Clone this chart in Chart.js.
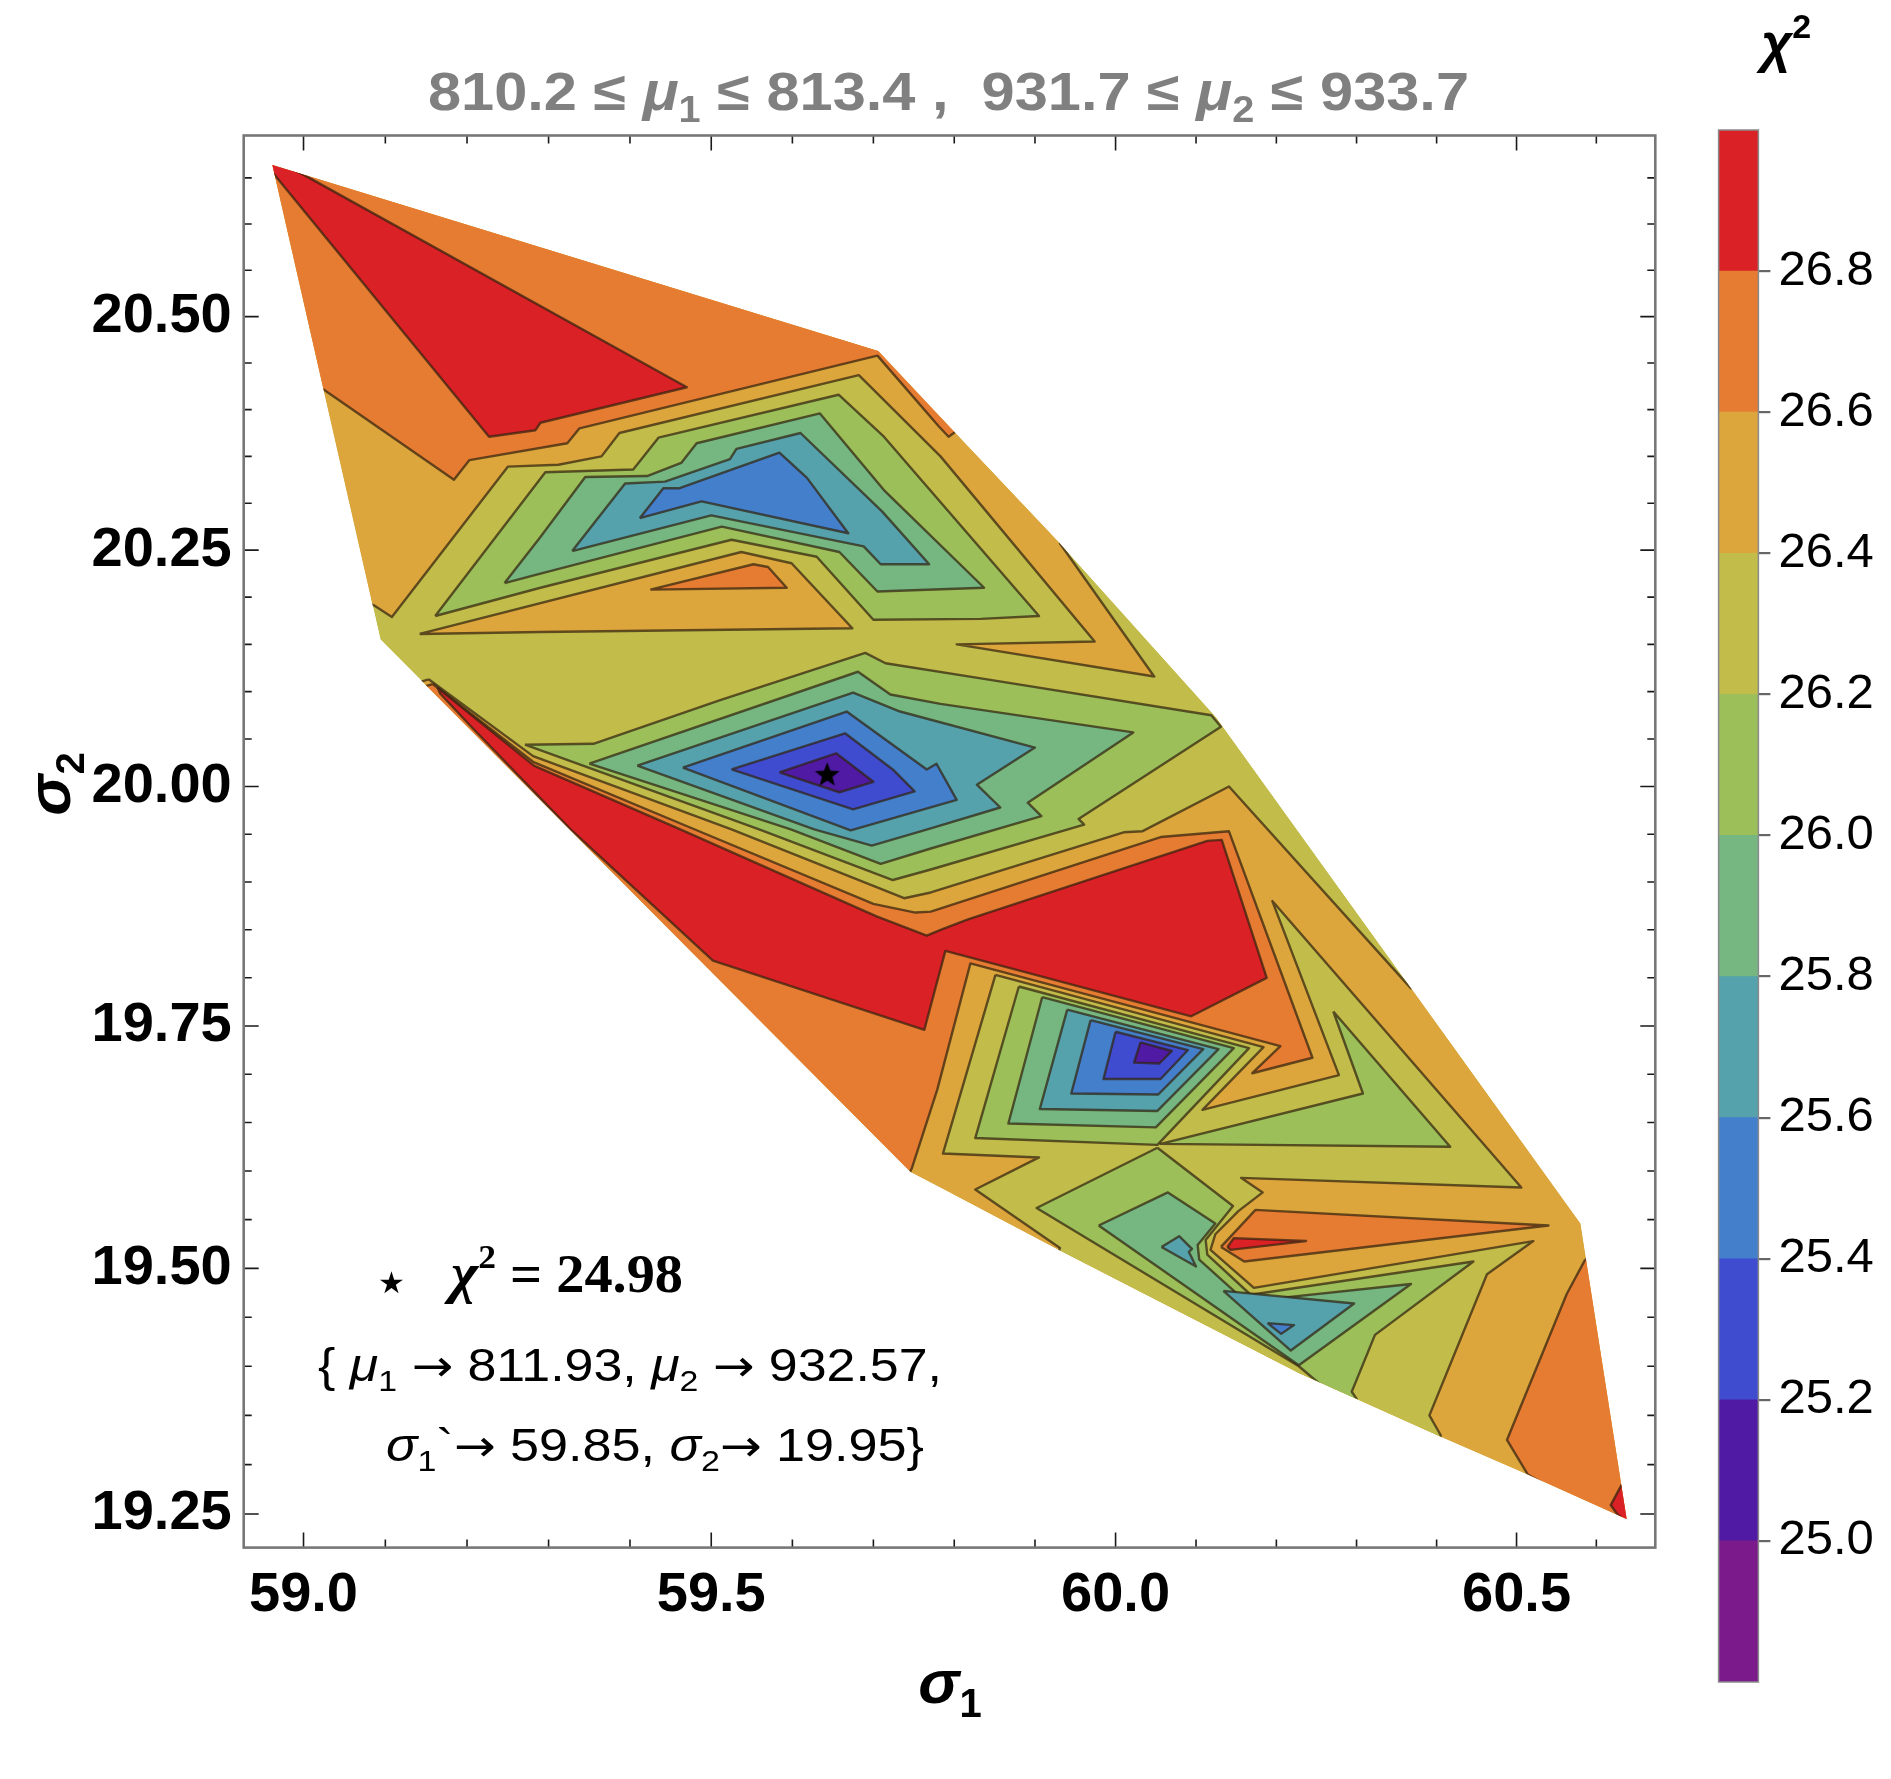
<!DOCTYPE html>
<html>
<head>
<meta charset="utf-8">
<script src="https://cdn.jsdelivr.net/npm/chart.js@4.4.1/dist/chart.umd.min.js"></script>
<style>
  html, body { margin: 0; padding: 0; background: #fff; }
  #wrap { position: relative; width: 1891px; height: 1779px; }
  #wrap canvas { position: absolute; left: 0; top: 0; }
</style>
</head>
<body>
<div id="wrap">
  <canvas id="plot" width="1891" height="1779"></canvas>
  <canvas id="bar" width="1891" height="1779"></canvas>
</div>
<script>
// chi^2 levels and band colours (one colour per band between two levels)
const chiLevels = [24.8, 25.0, 25.2, 25.4, 25.6, 25.8, 26.0, 26.2, 26.4, 26.6, 26.8, 27.0];
const bandColors = ['#7B1A8A', '#501AA5', '#3F4CD0', '#447FCC', '#55A1AC', '#75B681',
                    '#9CBF59', '#C2BC4A', '#DCA63C', '#E67C32', '#DA2126'];

// axis ranges and ticks (both axes are log scaled)
const sigma1Range = [58.927, 60.674];
const sigma2Range = [19.216, 20.696];
const sigma1Ticks = [59.0, 59.1, 59.2, 59.3, 59.4, 59.5, 59.6, 59.7, 59.8, 59.9, 60.0, 60.1, 60.2, 60.3, 60.4, 60.5, 60.6];
const sigma1Labels = [59.0, 59.5, 60.0, 60.5];
const sigma2Ticks = [19.25, 19.30, 19.35, 19.40, 19.45, 19.50, 19.55, 19.60, 19.65, 19.70, 19.75, 19.80, 19.85,
                     19.90, 19.95, 20.00, 20.05, 20.10, 20.15, 20.20, 20.25, 20.30, 20.35, 20.40, 20.45, 20.50,
                     20.55, 20.60, 20.65];
const sigma2Labels = [19.25, 19.50, 19.75, 20.00, 20.25, 20.50];

// contour regions, [sigma1, sigma2] vertices
const hullPts = [[58.962,20.664],[59.706,20.463],[59.783,20.392],[59.931,20.257],[60.125,20.073],[60.580,19.546],
  [60.638,19.245],[60.514,19.290],[60.406,19.328],[60.228,19.393],[59.925,19.521],[59.783,19.583],[59.746,19.599],[59.094,20.155]];

const upperGold = [[59.085,20.192],[59.108,20.179],[59.250,20.339],[59.312,20.341],[59.365,20.350],[59.387,20.375],
  [59.682,20.437],[59.783,20.350],[59.974,20.153],[59.803,20.150],[60.048,20.116],[59.931,20.257],[59.956,20.271],
  [59.721,20.480],[58.949,20.680],[59.063,20.189]];
const upperOrange = [[59.024,20.422],[59.184,20.325],[59.203,20.346],[59.323,20.364],[59.338,20.380],[59.705,20.458],
  [59.781,20.382],[59.793,20.371],[59.814,20.384],[59.721,20.480],[58.949,20.680],[59.002,20.421]];
const upperRed = [[58.949,20.667],[58.953,20.674],[59.001,20.653],[59.470,20.424],[59.290,20.386],[59.284,20.378],
  [59.227,20.371],[58.964,20.654]];
const upperYGreen = [[59.161,20.180],[59.296,20.333],[59.404,20.336],[59.435,20.370],[59.657,20.416],[59.713,20.371],
  [59.905,20.180],[59.833,20.177],[59.700,20.176],[59.630,20.243],[59.525,20.261],[59.290,20.210]];
const upperGreen = [[59.246,20.215],[59.290,20.264],[59.345,20.328],[59.421,20.329],[59.463,20.343],[59.482,20.364],
  [59.634,20.396],[59.713,20.314],[59.837,20.210],[59.705,20.206],[59.658,20.248],[59.513,20.275],[59.290,20.225]];
const upperTeal = [[59.329,20.249],[59.394,20.321],[59.443,20.323],[59.523,20.347],[59.531,20.358],[59.610,20.375],
  [59.711,20.291],[59.769,20.235],[59.709,20.235],[59.688,20.254],[59.500,20.287]];
const upperBlue = [[59.412,20.284],[59.441,20.316],[59.461,20.316],[59.584,20.354],[59.618,20.327],[59.669,20.268],[59.488,20.302]];
const goldWedge = [[59.142,20.161],[59.537,20.248],[59.599,20.236],[59.674,20.167],[59.290,20.163]];
const orangeWedge = [[59.425,20.208],[59.552,20.235],[59.570,20.232],[59.593,20.210]];

const midGold = [[59.153,20.113],[59.281,20.032],[59.525,19.955],[59.738,19.883],[59.771,19.889],[60.010,19.952],
  [60.033,19.953],[60.141,20.000],[60.368,19.789],[60.405,19.793],[60.630,19.540],[60.680,19.224],[59.919,19.504],
  [59.733,19.576],[59.112,20.102]];
const midOrange = [[59.158,20.108],[59.281,20.026],[59.474,19.957],[59.700,19.877],[59.752,19.868],[59.771,19.869],
  [60.056,19.947],[60.141,19.953],[60.245,19.717],[60.170,19.701],[60.205,19.729],[59.820,19.815],[59.779,19.684],
  [59.748,19.604],[59.733,19.576],[59.112,20.097]];
const midRed = [[59.164,20.104],[59.282,20.022],[59.462,19.955],[59.704,19.864],[59.766,19.844],[59.783,19.850],
  [59.817,19.861],[60.114,19.943],[60.132,19.944],[60.188,19.800],[60.094,19.760],[59.789,19.828],[59.763,19.746],
  [59.502,19.818],[59.327,19.955],[59.204,20.064],[59.167,20.098]];
const lowerOlive = [[59.851,19.803],[60.184,19.728],[60.108,19.663],[60.278,19.699],[60.195,19.880],[60.506,19.583],
  [60.156,19.593],[60.183,19.578],[60.153,19.559],[60.124,19.535],[60.118,19.519],[60.172,19.480],[60.521,19.528],
  [60.463,19.494],[60.391,19.350],[60.405,19.330],[60.405,19.310],[60.228,19.376],[59.925,19.507],[59.931,19.521],
  [59.826,19.581],[59.905,19.614],[59.786,19.618]];

const bRingYGreen = [[59.880,19.791],[59.826,19.634],[60.052,19.627],[60.166,19.727]];
const bRingGreen = [[59.909,19.780],[59.867,19.649],[60.050,19.645],[60.147,19.727]];
const bRingTeal = [[59.940,19.767],[59.906,19.664],[60.052,19.662],[60.128,19.726]];
const bRingBlue = [[59.969,19.756],[59.945,19.680],[60.053,19.679],[60.109,19.726]];
const bRingDkBlue = [[60.000,19.744],[59.985,19.695],[60.056,19.695],[60.090,19.725]];
const bRingViolet = [[60.031,19.733],[60.023,19.712],[60.054,19.711],[60.070,19.724]];
const spikeYGreen = [[60.271,19.765],[60.308,19.680],[60.056,19.628],[60.417,19.625]];

const cYGreen = [[60.052,19.624],[60.146,19.564],[60.112,19.529],[60.114,19.514],[60.168,19.473],[60.446,19.507],
  [60.323,19.432],[60.294,19.374],[60.300,19.367],[60.299,19.351],[60.228,19.400],[59.902,19.562]];
const cGreen = [[59.979,19.544],[60.065,19.578],[60.124,19.546],[60.102,19.524],[60.104,19.509],[60.162,19.466],
  [60.368,19.484],[60.228,19.401]];
const cTealA = [[60.057,19.522],[60.079,19.533],[60.095,19.520],[60.091,19.517],[60.100,19.502]];
const cTealB = [[60.134,19.477],[60.297,19.464],[60.218,19.416]];
const cBlue = [[60.189,19.444],[60.222,19.442],[60.206,19.433]];
const dOrange = [[60.131,19.522],[60.174,19.560],[60.540,19.544],[60.160,19.507]];
const dRed = [[60.139,19.522],[60.147,19.531],[60.237,19.528],[60.143,19.519]];
const cornerOrange = [[60.586,19.509],[60.563,19.474],[60.488,19.325],[60.514,19.290],[60.668,19.219],[60.655,19.529]];
const cornerRed = [[60.632,19.280],[60.618,19.259],[60.626,19.250],[60.668,19.219],[60.655,19.285]];

const aRingYGreen = [[59.271,20.044],[59.355,20.045],[59.511,20.091],[59.690,20.141],[59.715,20.130],[59.833,20.114],
  [60.119,20.075],[60.131,20.063],[59.954,19.966],[59.961,19.960],[59.771,19.913],[59.724,19.902],[59.559,19.955]];
const aRingGreen = [[59.350,20.024],[59.681,20.121],[59.721,20.097],[59.783,20.087],[60.022,20.057],[59.891,19.983],
  [59.908,19.969],[59.771,19.935],[59.709,19.919],[59.598,19.955]];
const aRingTeal = [[59.409,20.022],[59.675,20.099],[59.733,20.079],[59.900,20.041],[59.828,20.002],[59.857,19.978],
  [59.771,19.956],[59.698,19.938],[59.627,19.955]];
const aRingBlue = [[59.465,20.020],[59.667,20.079],[59.766,20.018],[59.778,20.024],[59.803,19.986],[59.672,19.954]];
const aRingDkBlue = [[59.525,20.018],[59.665,20.056],[59.724,20.018],[59.751,19.995],[59.675,19.976]];
const aRingViolet = [[59.584,20.015],[59.654,20.035],[59.700,20.005],[59.658,19.994]];

const bestFit = [[59.643, 20.013]];

const SANS = '"Liberation Sans", Arial, sans-serif';
const SERIF = '"Liberation Serif", "Times New Roman", serif';
const ARROW = '"DejaVu Sans", sans-serif';
const lineColor = 'rgba(50,35,15,0.72)';

// drawing order, bottom first: [points, band index]
const layers = [
  [hullPts, 7, true],
  [upperGold, 8], [upperOrange, 9], [upperRed, 10],
  [upperYGreen, 6], [upperGreen, 5], [upperTeal, 4], [upperBlue, 3],
  [goldWedge, 8], [orangeWedge, 9],
  [midGold, 8], [midOrange, 9], [midRed, 10], [lowerOlive, 7],
  [bRingYGreen, 6], [bRingGreen, 5], [bRingTeal, 4], [bRingBlue, 3], [bRingDkBlue, 2], [bRingViolet, 1],
  [spikeYGreen, 6],
  [cYGreen, 6], [cGreen, 5], [cTealA, 4], [cTealB, 4], [cBlue, 3],
  [dOrange, 9], [dRed, 10], [cornerOrange, 9], [cornerRed, 10],
  [aRingYGreen, 6], [aRingGreen, 5], [aRingTeal, 4], [aRingBlue, 3], [aRingDkBlue, 2], [aRingViolet, 1]
];

function toXY(pts) { return pts.map(p => ({x: p[0], y: p[1]})); }
function isIn(list, v) { return list.some(l => Math.abs(l - v) < 1e-6); }

// filled star used as the best fit marker
function makeStar(size) {
  const c = document.createElement('canvas');
  c.width = size; c.height = size;
  const g = c.getContext('2d');
  const r = size / 2, ri = r * 0.42;
  g.beginPath();
  for (let i = 0; i < 10; i++) {
    const a = -Math.PI / 2 + i * Math.PI / 5;
    const rr = i % 2 ? ri : r;
    g.lineTo(r + rr * Math.cos(a), r + 1 + rr * Math.sin(a));
  }
  g.closePath();
  g.fillStyle = '#000';
  g.fill();
  return c;
}

const datasets = layers.map(([pts, band, noStroke], i) => ({
  data: toXY(pts.concat([pts[0]])),
  showLine: true,
  fill: 'shape',
  backgroundColor: bandColors[band],
  borderColor: noStroke ? 'rgba(0,0,0,0)' : lineColor,
  borderWidth: 2.4,
  borderJoinStyle: 'round',
  pointRadius: 0,
  tension: 0,
  order: layers.length - i
}));
datasets.push({
  data: toXY(bestFit),
  pointStyle: makeStar(26),
  pointRadius: 13,
  showLine: false,
  order: 0
});

// text with sub/superscripts, optionally fitted to a width
function drawRich(ctx, parts, x, y, align, width) {
  let total = 0;
  parts.forEach(p => { ctx.font = p.font; p.w = ctx.measureText(p.text).width; total += p.w; });
  const sx = width ? width / total : 1;
  ctx.save();
  ctx.translate(align === 'center' ? x - total * sx / 2 : x, y);
  ctx.scale(sx, 1);
  ctx.textBaseline = 'alphabetic';
  ctx.textAlign = 'left';
  let cx = 0;
  parts.forEach(p => {
    ctx.font = p.font;
    ctx.fillStyle = p.color || '#000';
    ctx.fillText(p.text, cx, p.dy || 0);
    cx += p.w;
  });
  ctx.restore();
}

const hullClip = {
  id: 'hullClip',
  beforeDatasetsDraw(chart) {
    const {ctx, scales: {x, y}} = chart;
    ctx.save();
    ctx.beginPath();
    hullPts.forEach((p, i) => {
      const px = x.getPixelForValue(p[0]), py = y.getPixelForValue(p[1]);
      if (i === 0) ctx.moveTo(px, py); else ctx.lineTo(px, py);
    });
    ctx.closePath();
    ctx.clip();
  },
  afterDatasetsDraw(chart) {
    chart.ctx.restore();
  }
};

const frameAndText = {
  id: 'frameAndText',
  afterDraw(chart) {
    const {ctx, chartArea: ca, scales: {x, y}} = chart;
    ctx.save();
    ctx.strokeStyle = '#1a1a1a';
    ctx.lineWidth = 1.6;
    ctx.beginPath();
    sigma1Ticks.forEach(v => {
      const px = x.getPixelForValue(v);
      const len = isIn(sigma1Labels, v) ? 15 : 8;
      ctx.moveTo(px, ca.bottom); ctx.lineTo(px, ca.bottom - len);
      ctx.moveTo(px, ca.top); ctx.lineTo(px, ca.top + len);
    });
    sigma2Ticks.forEach(v => {
      const py = y.getPixelForValue(v);
      const len = isIn(sigma2Labels, v) ? 15 : 8;
      ctx.moveTo(ca.left, py); ctx.lineTo(ca.left + len, py);
      ctx.moveTo(ca.right, py); ctx.lineTo(ca.right - len, py);
    });
    ctx.stroke();
    ctx.strokeStyle = '#777';
    ctx.lineWidth = 2.6;
    ctx.strokeRect(ca.left, ca.top, ca.right - ca.left, ca.bottom - ca.top);

    const gray = '#808080';
    const B = 'bold 54px ' + SANS, BI = 'italic bold 54px ' + SANS, BS = 'bold 36px ' + SANS;
    drawRich(ctx, [
      {text: '810.2 \u2264 ', font: B, color: gray},
      {text: '\u03bc', font: BI, color: gray},
      {text: '1', font: BS, color: gray, dy: 12},
      {text: ' \u2264 813.4 ,  931.7 \u2264 ', font: B, color: gray},
      {text: '\u03bc', font: BI, color: gray},
      {text: '2', font: BS, color: gray, dy: 12},
      {text: ' \u2264 933.7', font: B, color: gray}
    ], 948.5, 110, 'center', 1041);

    // axis titles
    drawRich(ctx, [
      {text: '\u03c3', font: 'italic bold 62px ' + SANS},
      {text: '1', font: 'bold 40px ' + SANS, dy: 14}
    ], 950, 1703, 'center');
    ctx.save();
    ctx.translate(70, 784);
    ctx.rotate(-Math.PI / 2);
    drawRich(ctx, [
      {text: '\u03c3', font: 'italic bold 62px ' + SANS},
      {text: '2', font: 'bold 40px ' + SANS, dy: 14}
    ], 0, 0, 'center');
    ctx.restore();

    // best fit note
    ctx.font = '30px "DejaVu Sans", sans-serif';
    ctx.fillStyle = '#000';
    ctx.textAlign = 'center';
    ctx.fillText('\u2605', 391.5, 1293);
    drawRich(ctx, [
      {text: '\u03c7', font: 'italic bold 56px ' + SERIF},
      {text: '2', font: 'bold 34px ' + SERIF, dy: -24},
      {text: ' = 24.98', font: 'bold 54px ' + SERIF}
    ], 451, 1292, 'left', 232);
    const R = '46px ' + SANS, RI = 'italic 46px ' + SANS, RS = '30px ' + SANS, RA = '44px ' + ARROW;
    drawRich(ctx, [
      {text: '{ ', font: R}, {text: '\u03bc', font: RI}, {text: '1', font: RS, dy: 10},
      {text: ' ', font: R}, {text: '\u2192', font: RA}, {text: ' 811.93, ', font: R},
      {text: '\u03bc', font: RI}, {text: '2', font: RS, dy: 10},
      {text: ' ', font: R}, {text: '\u2192', font: RA}, {text: ' 932.57,', font: R}
    ], 318, 1381, 'left', 624);
    drawRich(ctx, [
      {text: '\u03c3', font: RI}, {text: '1', font: RS, dy: 10},
      {text: '`', font: R}, {text: '\u2192', font: RA}, {text: ' 59.85, ', font: R},
      {text: '\u03c3', font: RI}, {text: '2', font: RS, dy: 10},
      {text: '\u2192', font: RA}, {text: ' 19.95}', font: R}
    ], 386, 1461, 'left', 538);

    // colour bar heading
    drawRich(ctx, [
      {text: '\u03c7', font: 'italic bold 54px ' + SANS},
      {text: '2', font: 'bold 34px ' + SANS, dy: -24}
    ], 1761, 62, 'left');
    ctx.restore();
  }
};

new Chart(document.getElementById('plot'), {
  type: 'scatter',
  data: { datasets },
  options: {
    responsive: false,
    devicePixelRatio: 1,
    animation: false,
    events: [],
    layout: { padding: { left: 0, top: 135.5, right: 235.7, bottom: 81.4 } },
    plugins: { legend: { display: false }, tooltip: { enabled: false } },
    scales: {
      x: {
        type: 'logarithmic',
        bounds: 'data',
        position: 'bottom',
        min: sigma1Range[0],
        max: sigma1Range[1],
        afterBuildTicks: s => { s.ticks = sigma1Ticks.map(v => ({value: v})); },
        afterFit: s => { s.height = 150; },
        grid: { display: false, drawTicks: false },
        border: { display: false },
        ticks: {
          autoSkip: false, maxRotation: 0, minRotation: 0, padding: 14, color: '#000',
          font: { family: SANS, size: 56, weight: 'bold' },
          callback: v => isIn(sigma1Labels, v) ? v.toFixed(1) : ''
        }
      },
      y: {
        type: 'logarithmic',
        bounds: 'data',
        position: 'left',
        min: sigma2Range[0],
        max: sigma2Range[1],
        afterBuildTicks: s => { s.ticks = sigma2Ticks.map(v => ({value: v})); },
        afterFit: s => { s.width = 243.7; },
        grid: { display: false, drawTicks: false },
        border: { display: false },
        ticks: {
          autoSkip: false, padding: 12, color: '#000',
          font: { family: SANS, size: 56, weight: 'bold' },
          callback: v => isIn(sigma2Labels, v) ? v.toFixed(2) : ''
        }
      }
    }
  },
  plugins: [hullClip, frameAndText]
});

// colour bar
const barFrame = {
  id: 'barFrame',
  afterDraw(chart) {
    const {ctx, chartArea: ca} = chart;
    ctx.save();
    ctx.strokeStyle = '#8a8a8a';
    ctx.lineWidth = 1.5;
    ctx.strokeRect(ca.left, ca.top, ca.right - ca.left, ca.bottom - ca.top);
    ctx.restore();
  }
};
const isEdge = v => v < chiLevels[0] + 0.01 || v > chiLevels[chiLevels.length - 1] - 0.01;

new Chart(document.getElementById('bar'), {
  type: 'bar',
  data: {
    labels: ['chi2'],
    datasets: bandColors.map((c, i) => ({
      data: [[chiLevels[i], chiLevels[i + 1]]],
      backgroundColor: c,
      borderWidth: 0,
      grouped: false,
      barPercentage: 1,
      categoryPercentage: 1
    }))
  },
  options: {
    responsive: false,
    devicePixelRatio: 1,
    animation: false,
    events: [],
    layout: { padding: { left: 1718.6, top: 130, right: 0, bottom: 97 } },
    plugins: { legend: { display: false }, tooltip: { enabled: false } },
    scales: {
      x: { display: false },
      y: {
        position: 'right',
        min: chiLevels[0],
        max: chiLevels[chiLevels.length - 1],
        z: 1,
        afterBuildTicks: s => { s.ticks = chiLevels.map(v => ({value: v})); },
        afterFit: s => { s.width = 132.6; },
        grid: {
          lineWidth: 2.2,
          tickLength: 12,
          color: c => isEdge(c.tick.value) ? 'rgba(0,0,0,0)' : lineColor,
          tickColor: c => isEdge(c.tick.value) ? 'rgba(0,0,0,0)' : '#666'
        },
        border: { display: false },
        ticks: {
          padding: 8, color: '#000',
          font: { family: SANS, size: 49 },
          callback: v => isEdge(v) ? '' : v.toFixed(1)
        }
      }
    }
  },
  plugins: [barFrame]
});
</script>
</body>
</html>
